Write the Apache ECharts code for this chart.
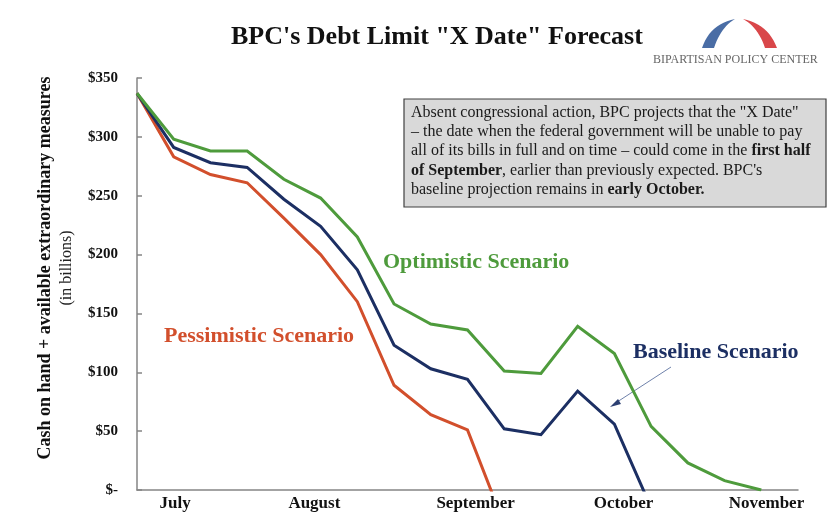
<!DOCTYPE html>
<html>
<head>
<meta charset="utf-8">
<script src="https://cdn.jsdelivr.net/npm/echarts@6/dist/echarts.min.js"></script>
<style>
  html, body { margin: 0; padding: 0; background: #fff; }
  #chart { width: 840px; height: 516px; }
</style>
</head>
<body>
<div id="chart"></div>
<script>
// weekly points, x = week index from the first observation
const weeks = [0, 1, 2, 3, 4, 5, 6, 7, 8, 9, 10, 11, 12, 13, 14, 15, 16, 17]
const optimistic = [337, 298, 288, 288, 264, 248, 215, 158, 141, 136, 101, 99, 139, 116, 54, 23, 8, 0]
const baseline = [337, 291, 278, 274, 247, 224, 187, 123, 103, 94, 52, 47, 84, 56, -15]
// last values fall below zero, the plot clips them at the axis
const pessimistic = [337, 283, 268, 261, 231, 200, 160, 89, 64, 51, -29]

const monthLabels = ['July', 'August', 'September', 'October', 'November']
const monthPos = [1.04, 4.83, 9.22, 13.25, 17.14]

const serif = '"Liberation Serif", "DejaVu Serif", serif'
const GREEN = '#4e9b3c'
const NAVY = '#1c2f63'
const RED = '#d24f2c'

const toPairs = (arr) => arr.map((v, i) => [weeks[i], v])

// quadratic curve points for the logo arch
const quad = (p0, c, p1, n = 12) => {
  const pts = []
  for (let i = 0; i <= n; i++) {
    const t = i / n
    const a = (1 - t) * (1 - t), b = 2 * (1 - t) * t, d = t * t
    pts.push([a * p0[0] + b * c[0] + d * p1[0], a * p0[1] + b * c[1] + d * p1[1]])
  }
  return pts
}
const leftArch = quad([702, 48], [710, 24], [735, 19]).concat(quad([735, 19], [721, 27], [714, 48]))
const rightArch = quad([743, 19], [768, 24], [777, 48]).concat(quad([765, 48], [758, 27], [743, 19]))

const chart = echarts.init(document.getElementById('chart'))

const lineSeries = (name, data, color) => ({
  name,
  type: 'line',
  data: toPairs(data),
  showSymbol: false,
  symbol: 'none',
  clip: true,
  lineStyle: { color, width: 3, join: 'miter' },
  itemStyle: { color },
  z: 3
})

const option = {
  backgroundColor: '#fff',
  animation: false,
  textStyle: { fontFamily: serif },
  title: {
    text: 'BPC\'s Debt Limit "X Date" Forecast',
    left: 226,
    top: 19,
    textStyle: { fontFamily: serif, fontSize: 26, fontWeight: 'bold', color: '#111' }
  },
  grid: {
    left: 137,
    right: 42,
    top: 78,
    bottom: 26,
    outerBoundsMode: 'none'
  },
  xAxis: {
    type: 'value',
    min: 0,
    max: 18,
    splitLine: { show: false },
    axisTick: { show: false },
    axisLine: { show: true, lineStyle: { color: '#858585', width: 1.5 } },
    axisLabel: {
      customValues: monthPos,
      formatter: (v) => {
        const i = monthPos.indexOf(v)
        return i >= 0 ? monthLabels[i] : ''
      },
      margin: 5,
      fontFamily: serif,
      fontSize: 17,
      fontWeight: 'bold',
      color: '#111'
    }
  },
  yAxis: {
    type: 'value',
    min: 0,
    max: 350,
    interval: 50,
    splitLine: { show: false },
    axisLine: { show: true, lineStyle: { color: '#858585', width: 1.5 } },
    axisTick: { show: true, inside: true, length: 5, lineStyle: { color: '#858585', width: 1.5 } },
    axisLabel: {
      formatter: (v) => (v === 0 ? '$-' : '$' + v),
      margin: 19,
      fontFamily: serif,
      fontSize: 15,
      fontWeight: 'bold',
      color: '#111'
    },
    name: '{a|Cash on hand + available extraordinary measures}\n{b|(in billions)}',
    nameLocation: 'middle',
    nameRotate: 90,
    nameGap: 60,
    nameTextStyle: {
      padding: [0, 0, 0, 32],
      rich: {
        a: { fontFamily: serif, fontSize: 18, fontWeight: 'bold', color: '#111', lineHeight: 23 },
        b: { fontFamily: serif, fontSize: 16, color: '#222', lineHeight: 20 }
      }
    }
  },
  series: [
    lineSeries('Pessimistic Scenario', pessimistic, RED),
    lineSeries('Baseline Scenario', baseline, NAVY),
    lineSeries('Optimistic Scenario', optimistic, GREEN)
  ],
  graphic: [
    // logo
    { type: 'polygon', shape: { points: leftArch }, style: { fill: '#4a6da5' } },
    { type: 'polygon', shape: { points: rightArch }, style: { fill: '#d9474a' } },
    {
      type: 'text',
      left: 653,
      top: 54,
      style: { text: 'BIPARTISAN POLICY CENTER', fontFamily: serif, fontSize: 12, fill: '#666' }
    },
    // note box
    {
      type: 'rect',
      shape: { x: 404, y: 99, width: 422, height: 108 },
      style: { fill: '#d9d9d9', stroke: '#404040', lineWidth: 1.2 },
      z: 10
    },
    {
      type: 'text',
      x: 411,
      y: 103,
      z: 11,
      style: {
        text: 'Absent congressional action, BPC projects that the "X Date"\n' +
          '– the date when the federal government will be unable to pay\n' +
          'all of its bills in full and on time – could come in the {b|first half}\n' +
          '{b|of September}, earlier than previously expected. BPC\'s\n' +
          'baseline projection remains in {b|early October.}',
        fontFamily: serif,
        fontSize: 16,
        lineHeight: 19.3,
        fill: '#1a1a1a',
        rich: {
          b: { fontFamily: serif, fontSize: 16, lineHeight: 19.3, fontWeight: 'bold', color: '#1a1a1a' }
        }
      }
    },
    // scenario labels
    {
      type: 'text',
      left: 383,
      top: 251,
      style: { text: 'Optimistic Scenario', fontFamily: serif, fontSize: 22, fontWeight: 'bold', fill: GREEN }
    },
    {
      type: 'text',
      left: 164,
      top: 325,
      style: { text: 'Pessimistic Scenario', fontFamily: serif, fontSize: 22, fontWeight: 'bold', fill: RED }
    },
    {
      type: 'text',
      left: 633,
      top: 341,
      style: { text: 'Baseline Scenario', fontFamily: serif, fontSize: 22, fontWeight: 'bold', fill: NAVY }
    },
    // arrow to baseline line
    {
      type: 'line',
      shape: { x1: 671, y1: 367, x2: 614, y2: 404 },
      style: { stroke: '#6f82ab', lineWidth: 1 }
    },
    {
      type: 'polygon',
      shape: { points: [[610, 407], [618, 399], [621, 404]] },
      style: { fill: '#2c3f72' }
    }
  ]
}

chart.setOption(option)
</script>
</body>
</html>
